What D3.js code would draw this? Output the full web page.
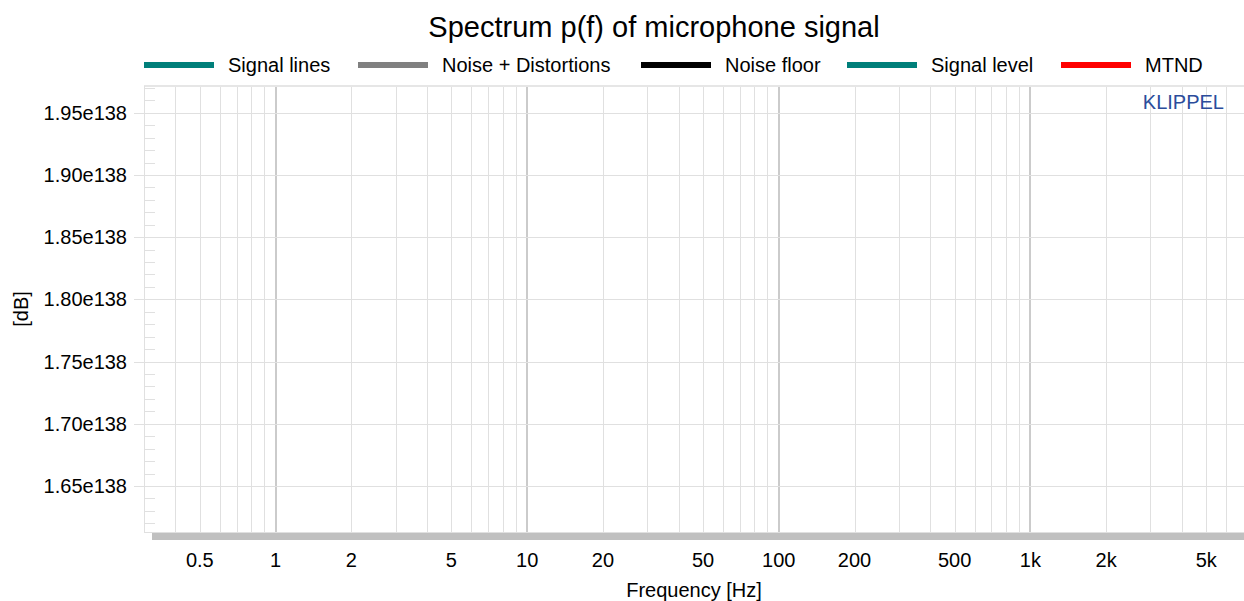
<!DOCTYPE html>
<html>
<head>
<meta charset="utf-8">
<script src="https://cdn.jsdelivr.net/npm/d3@7"></script>
<style>
    body { margin: 0; background: #fff; }
    text { font-family: "Liberation Sans", Arial, sans-serif; }
</style>
</head>
<body>
<div id="chart"></div>
<script>
// legend entries
var seriesNames = ["Signal lines", "Noise + Distortions", "Noise floor", "Signal level", "MTND"];
var seriesColors = ["#007f7a", "#808080", "#000000", "#007f7a", "#ff0000"];
var legendX = [144, 358, 641, 847, 1061];

// x axis (log frequency)
var xDomain = [0.3, 7000];
var xTicks = [0.5, 1, 2, 5, 10, 20, 50, 100, 200, 500, 1000, 2000, 5000];
var xTickLabels = ["0.5", "1", "2", "5", "10", "20", "50", "100", "200", "500", "1k", "2k", "5k"];

// y axis
var yDomain = [1.613e138, 1.9715e138];
var yTicks = [1.65e138, 1.70e138, 1.75e138, 1.80e138, 1.85e138, 1.90e138, 1.95e138];

var w = 1244;
var h = 601;
var plotLeft = 144, plotRight = 1243, plotTop = 86, plotBottom = 532;

var svg = d3.select("#chart").append("svg").attr("width", w).attr("height", h);

var xScale = d3.scaleLog().domain(xDomain).range([plotLeft, plotRight]);
var yScale = d3.scaleLinear().domain(yDomain).range([plotBottom, plotTop]);

// minor vertical grid (2..9 in every decade)
var minorX = [];
for (var e = -1; e <= 3; e++) {
    for (var m = 2; m <= 9; m++) {
        var v = m * Math.pow(10, e);
        if (v > xDomain[0] && v < xDomain[1]) minorX.push(v);
    }
}
svg.append("g").selectAll("line").data(minorX).enter().append("line")
    .attr("x1", function (d) { return Math.round(xScale(d)) + 0.5; })
    .attr("x2", function (d) { return Math.round(xScale(d)) + 0.5; })
    .attr("y1", plotTop).attr("y2", plotBottom)
    .attr("stroke", "#e0e0e0").attr("stroke-width", 1);

// decade lines
svg.append("g").selectAll("line").data([1, 10, 100, 1000]).enter().append("line")
    .attr("x1", function (d) { return Math.round(xScale(d)); })
    .attr("x2", function (d) { return Math.round(xScale(d)); })
    .attr("y1", plotTop).attr("y2", plotBottom)
    .attr("stroke", "#cbcbcb").attr("stroke-width", 2);

// horizontal grid + small ticks to the left
svg.append("g").selectAll("line").data(yTicks).enter().append("line")
    .attr("x1", plotLeft - 10).attr("x2", w)
    .attr("y1", function (d) { return Math.round(yScale(d)) + 0.5; })
    .attr("y2", function (d) { return Math.round(yScale(d)) + 0.5; })
    .attr("stroke", "#e0e0e0").attr("stroke-width", 1);

// minor y ticks every 0.01e138
var minorY = d3.range(162, 198).map(function (k) { return k * 1e136; });
svg.append("g").selectAll("line").data(minorY).enter().append("line")
    .attr("x1", plotLeft).attr("x2", plotLeft + 11)
    .attr("y1", function (d) { return Math.round(yScale(d)) + 0.5; })
    .attr("y2", function (d) { return Math.round(yScale(d)) + 0.5; })
    .attr("stroke", "#e0e0e0").attr("stroke-width", 1);

// frame
svg.append("line").attr("x1", plotLeft).attr("x2", w).attr("y1", plotTop).attr("y2", plotTop)
    .attr("stroke", "#e6e6e6").attr("stroke-width", 2);
svg.append("line").attr("x1", plotLeft + 0.5).attr("x2", plotLeft + 0.5).attr("y1", plotTop).attr("y2", plotBottom + 1)
    .attr("stroke", "#e0e0e0").attr("stroke-width", 1);
svg.append("line").attr("x1", plotLeft).attr("x2", w).attr("y1", plotBottom + 0.5).attr("y2", plotBottom + 0.5)
    .attr("stroke", "#e0e0e0").attr("stroke-width", 1);

// thick gray bar under the plot
svg.append("rect").attr("x", 152).attr("y", plotBottom + 1).attr("width", w - 152).attr("height", 7)
    .attr("fill", "#c0c0c0");

// y tick labels
svg.append("g").selectAll("text").data(yTicks).enter().append("text")
    .attr("x", 127)
    .attr("y", function (d) { return yScale(d); })
    .attr("dy", "0.35em")
    .attr("text-anchor", "end")
    .attr("font-size", "20px")
    .attr("fill", "#000")
    .text(function (d) { return (d / 1e138).toFixed(2) + "e138"; });

// x tick labels
svg.append("g").selectAll("text").data(xTicks).enter().append("text")
    .attr("x", function (d) { return xScale(d); })
    .attr("y", 567)
    .attr("text-anchor", "middle")
    .attr("font-size", "20px")
    .attr("fill", "#000")
    .text(function (d, i) { return xTickLabels[i]; });

// axis titles
svg.append("text").attr("x", 694).attr("y", 597).attr("text-anchor", "middle")
    .attr("font-size", "20px").text("Frequency [Hz]");
svg.append("text").attr("transform", "translate(28,309) rotate(-90)").attr("text-anchor", "middle")
    .attr("font-size", "20px").text("[dB]");

// title
svg.append("text").attr("x", 654).attr("y", 37).attr("text-anchor", "middle")
    .attr("font-size", "29px").text("Spectrum p(f) of microphone signal");

// legend
var legend = svg.append("g").selectAll("g").data(seriesNames).enter().append("g")
    .attr("transform", function (d, i) { return "translate(" + legendX[i] + ",0)"; });
legend.append("rect").attr("x", 0).attr("y", 62).attr("width", 70).attr("height", 6)
    .attr("fill", function (d, i) { return seriesColors[i]; });
legend.append("text").attr("x", 84).attr("y", 72).attr("font-size", "20px")
    .text(function (d) { return d; });

// watermark
svg.append("text").attr("x", 1224).attr("y", 109).attr("text-anchor", "end")
    .attr("font-size", "20px").attr("fill", "#2b4c9b").text("KLIPPEL");
</script>
</body>
</html>
